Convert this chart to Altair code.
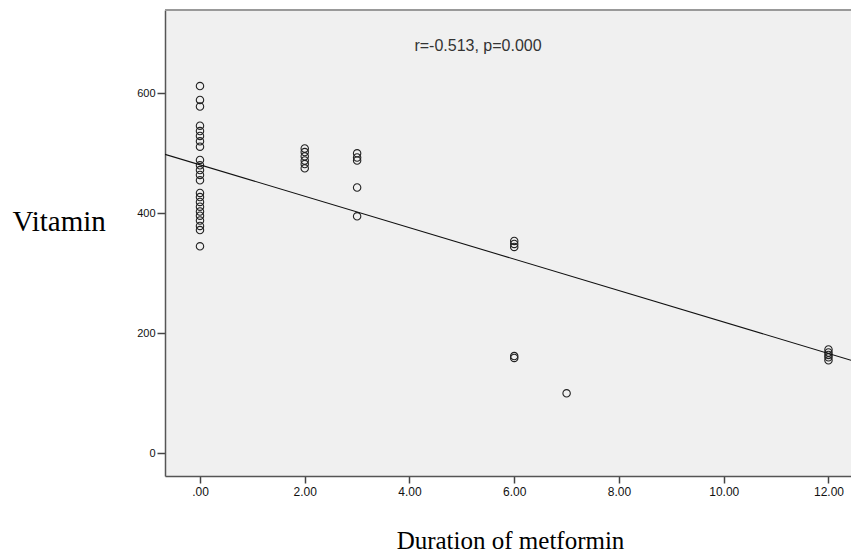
import altair as alt
import pandas as pd

# Duration of metformin (years) and Vitamin values
duration = [0]*23 + [2]*6 + [3]*5 + [6]*5 + [7] + [12]*5
vitamin = [612, 589, 578, 546, 537, 529, 520, 511, 489, 480, 472, 464, 455,
           434, 427, 419, 411, 403, 396, 388, 379, 372, 345,
           508, 502, 495, 488, 482, 475,
           500, 493, 488, 443, 395,
           354, 349, 344, 162, 159,
           100,
           173, 168, 164, 160, 155]

# fitted line
fit_intercept = 480.8
fit_slope = -26.2
x_domain = [-0.668, 12.43]
y_domain = [-37.8, 738.8]
x_ticks = [0, 2, 4, 6, 8, 10, 12]
y_ticks = [0, 200, 400, 600]
annotation = "r=-0.513, p=0.000"

pts = pd.DataFrame({"Duration": duration, "Vitamin": vitamin})
fit = pd.DataFrame({"Duration": x_domain,
                    "Vitamin": [fit_intercept + fit_slope * v for v in x_domain]})

W, H = 686, 466

xscale = alt.Scale(domain=x_domain, nice=False, zero=False)
yscale = alt.Scale(domain=y_domain, nice=False, zero=False)

xaxis = alt.Axis(values=x_ticks,
                 labelExpr="datum.value == 0 ? '.00' : format(datum.value, '.2f')",
                 grid=False, tickSize=7, tickColor="#444", tickWidth=1.5,
                 domainColor="#555", domainWidth=1.5,
                 labelFont="Liberation Sans", labelFontSize=12, labelColor="#111",
                 labelPadding=3,
                 title="Duration of metformin", titleFont="Liberation Serif",
                 titleFontSize=25, titleFontWeight="normal", titleColor="#000",
                 titleAnchor="start", titleAlign="center", titleBaseline="middle",
                 titleX=345, titleY=64)
yaxis = alt.Axis(values=y_ticks, grid=False, tickSize=8, tickColor="#444",
                 tickWidth=1.5, domainColor="#555", domainWidth=1.5,
                 labelFont="Liberation Sans", labelFontSize=11, labelColor="#111",
                 labelPadding=2,
                 title="Vitamin", titleFont="Liberation Serif", titleFontSize=29,
                 titleFontWeight="normal", titleColor="#000", titleAngle=0,
                 titleAlign="left", titleBaseline="middle", titleAnchor="start",
                 titleX=-153, titleY=211)

points = alt.Chart(pts).mark_point(shape="circle", filled=False, size=55,
                                   strokeWidth=1.1, color="#222", opacity=1, clip=True).encode(
    x=alt.X("Duration:Q", scale=xscale, axis=xaxis),
    y=alt.Y("Vitamin:Q", scale=yscale, axis=yaxis),
)

line = alt.Chart(fit).mark_line(color="#111", strokeWidth=1.1, clip=True).encode(
    x=alt.X("Duration:Q", scale=xscale),
    y=alt.Y("Vitamin:Q", scale=yscale),
)

top_border = alt.Chart(pd.DataFrame({"a": [0]})).mark_rule(color="#999", strokeWidth=2).encode(
    x=alt.value(0), x2=alt.value(W), y=alt.value(0)
)

label = alt.Chart(pd.DataFrame({"t": [annotation]})).mark_text(
    font="Liberation Sans", fontSize=16, color="#333", align="center", baseline="middle"
).encode(text="t:N", x=alt.value(313), y=alt.value(36))

chart = alt.layer(points, line, top_border, label).properties(
    width=W, height=H,
    autosize=alt.AutoSizeParams(type="none"),
    padding={"left": 165, "top": 10, "right": 0, "bottom": 80},
    background="white",
).configure_view(fill="#f0f0f0", stroke="transparent")

chart.save("out.html", embed_options={"renderer": "svg", "actions": False})
